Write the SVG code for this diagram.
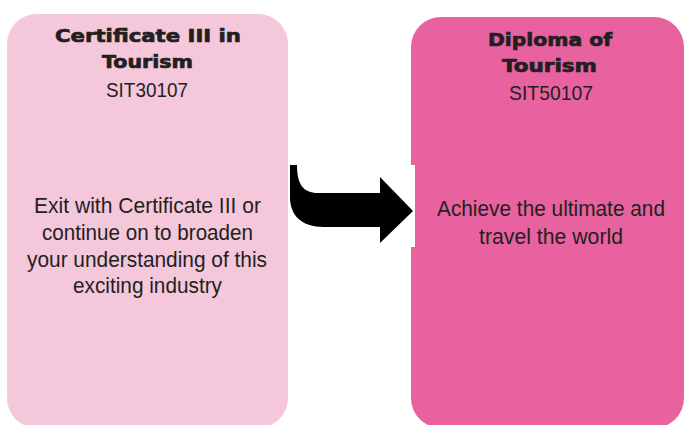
<svg xmlns="http://www.w3.org/2000/svg" width="686" height="425" viewBox="0 0 686 425">
<style>
.title{font-family:"DejaVu Sans","Liberation Sans",sans-serif;font-weight:bold;font-size:18px;fill:#231f20;stroke:#231f20;stroke-width:0.7;text-anchor:middle}
.code{font-family:"Liberation Sans Narrow","Liberation Sans",sans-serif;font-size:21px;fill:#231f20;text-anchor:middle}
.body{font-family:"Liberation Sans Narrow","Liberation Sans",sans-serif;font-size:22px;fill:#231f20;text-anchor:middle}
</style>
<rect width="686" height="425" fill="#ffffff"/>
<g id="node-cert3">
<rect x="7" y="14" width="281" height="414" rx="30" ry="30" fill="#f4c7da"/>
<text class="title" x="148" y="42" textLength="186" lengthAdjust="spacingAndGlyphs">Certificate III in</text>
<text class="title" x="147.5" y="68" textLength="91" lengthAdjust="spacingAndGlyphs">Tourism</text>
<text class="code" x="147" y="97" textLength="82" lengthAdjust="spacingAndGlyphs">SIT30107</text>
<text class="body" x="147.5" y="213" textLength="227" lengthAdjust="spacingAndGlyphs">Exit with Certificate III or</text>
<text class="body" x="147.5" y="240" textLength="211" lengthAdjust="spacingAndGlyphs">continue on to broaden</text>
<text class="body" x="147" y="267" textLength="240" lengthAdjust="spacingAndGlyphs">your understanding of this</text>
<text class="body" x="147.5" y="293" textLength="149" lengthAdjust="spacingAndGlyphs">exciting industry</text>
</g>
<g id="node-diploma">
<rect x="411" y="17" width="273" height="411" rx="30" ry="30" fill="#e8629f"/>
<text class="title" x="550" y="46" textLength="124" lengthAdjust="spacingAndGlyphs">Diploma of</text>
<text class="title" x="549.5" y="72" textLength="95" lengthAdjust="spacingAndGlyphs">Tourism</text>
<text class="code" x="551" y="100" textLength="84" lengthAdjust="spacingAndGlyphs">SIT50107</text>
<text class="body" x="551" y="216" textLength="228" lengthAdjust="spacingAndGlyphs">Achieve the ultimate and</text>
<text class="body" x="551" y="244" textLength="144" lengthAdjust="spacingAndGlyphs">travel the world</text>
</g>
<g id="connectors">
<rect x="288" y="165" width="127" height="82" fill="#ffffff"/>
<path d="M290,165 L297,165 C297,184 303,193 318,193 L380,193 L380,177 L413,211 L380,243 L380,227 L324,227 C301,227 290,215 290,197 Z" fill="#000000"/>
</g>
</svg>
